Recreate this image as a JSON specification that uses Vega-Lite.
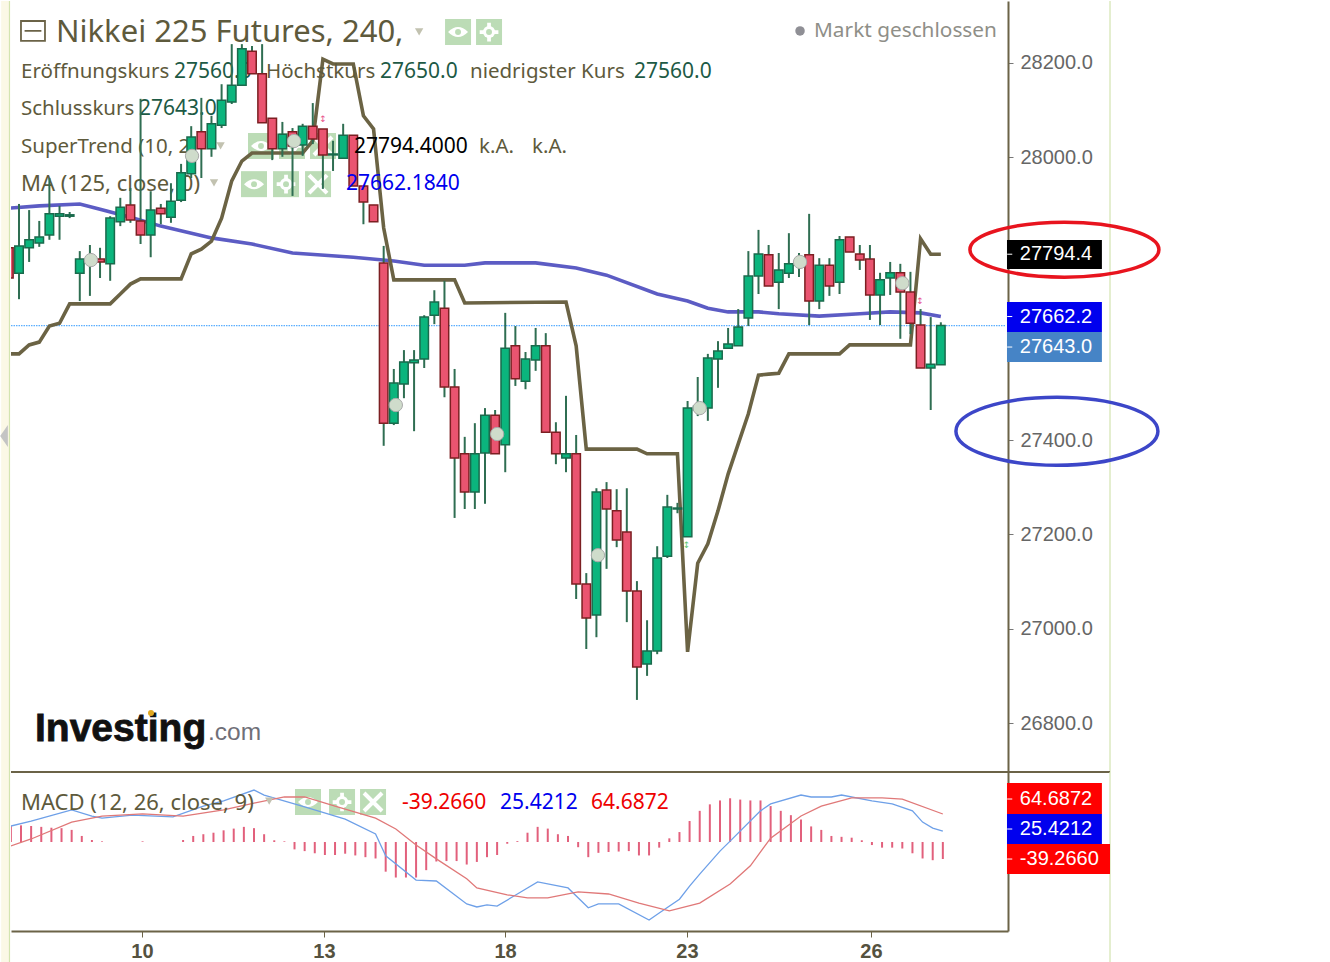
{
"$schema":"https://vega.github.io/schema/vega-lite/v6.json",
"padding":0,
"background":"white",
"bounds":"flush",
"spacing":0,
"resolve":{"scale":{"fill":"independent"}},
"config":{"view":{"stroke":null},"text":{"font":"Noto Sans"}},
"datasets":{
"candles":[
{"k":-1,"o":27808,"h":27822,"l":27727,"c":27744},{"k":0,"o":27754,"h":27901,"l":27699,"c":27812},{"k":1,"o":27808,"h":27888,"l":27778,"c":27825},{"k":2,"o":27818,"h":27865,"l":27810,"c":27831},{"k":3,"o":27835,"h":27956,"l":27825,"c":27880},{"k":4,"o":27875,"h":27897,"l":27825,"c":27880},{"k":5,"o":27875,"h":27884,"l":27871,"c":27878},{"k":6,"o":27754,"h":27801,"l":27695,"c":27784},{"k":7,"o":27778,"h":27814,"l":27706,"c":27784},{"k":8,"o":27784,"h":27808,"l":27744,"c":27778},{"k":9,"o":27774,"h":27875,"l":27738,"c":27871},{"k":10,"o":27863,"h":27914,"l":27854,"c":27894},{"k":11,"o":27899,"h":27935,"l":27861,"c":27867},{"k":12,"o":27865,"h":28124,"l":27816,"c":27835},{"k":13,"o":27835,"h":27928,"l":27788,"c":27888},{"k":14,"o":27892,"h":27901,"l":27858,"c":27880},{"k":15,"o":27873,"h":27945,"l":27861,"c":27907},{"k":16,"o":27909,"h":27986,"l":27905,"c":27967},{"k":17,"o":27965,"h":28066,"l":27956,"c":28043},{"k":18,"o":28054,"h":28126,"l":27956,"c":28018},{"k":19,"o":28018,"h":28088,"l":28001,"c":28071},{"k":20,"o":28068,"h":28155,"l":28062,"c":28121},{"k":21,"o":28117,"h":28240,"l":28113,"c":28153},{"k":22,"o":28153,"h":28240,"l":28153,"c":28230},{"k":23,"o":28225,"h":28236,"l":28177,"c":28177},{"k":24,"o":28177,"h":28240,"l":28073,"c":28073},{"k":25,"o":28083,"h":28083,"l":27994,"c":28018},{"k":26,"o":28018,"h":28075,"l":28001,"c":28049},{"k":27,"o":28054,"h":28062,"l":27918,"c":28024},{"k":28,"o":28026,"h":28071,"l":28003,"c":28066},{"k":29,"o":28066,"h":28115,"l":28028,"c":28039},{"k":30,"o":28060,"h":28060,"l":27933,"c":28005},{"k":31,"o":28005,"h":28035,"l":27971,"c":28007},{"k":32,"o":27998,"h":28071,"l":27998,"c":28047},{"k":33,"o":28047,"h":28047,"l":27939,"c":27939},{"k":34,"o":27939,"h":27939,"l":27858,"c":27905},{"k":35,"o":27899,"h":27899,"l":27863,"c":27863},{"k":36,"o":27776,"h":27812,"l":27388,"c":27436},{"k":37,"o":27436,"h":27551,"l":27432,"c":27521},{"k":38,"o":27519,"h":27591,"l":27489,"c":27566},{"k":39,"o":27564,"h":27591,"l":27419,"c":27570},{"k":40,"o":27572,"h":27665,"l":27553,"c":27661},{"k":41,"o":27665,"h":27718,"l":27646,"c":27693},{"k":42,"o":27680,"h":27738,"l":27491,"c":27513},{"k":43,"o":27513,"h":27551,"l":27235,"c":27362},{"k":44,"o":27371,"h":27407,"l":27254,"c":27290},{"k":45,"o":27290,"h":27436,"l":27254,"c":27371},{"k":46,"o":27373,"h":27468,"l":27265,"c":27453},{"k":47,"o":27453,"h":27464,"l":27371,"c":27371},{"k":48,"o":27390,"h":27670,"l":27332,"c":27595},{"k":49,"o":27600,"h":27642,"l":27515,"c":27530},{"k":50,"o":27525,"h":27587,"l":27508,"c":27572},{"k":51,"o":27570,"h":27638,"l":27547,"c":27600},{"k":52,"o":27600,"h":27627,"l":27417,"c":27417},{"k":53,"o":27417,"h":27438,"l":27349,"c":27371},{"k":54,"o":27362,"h":27494,"l":27332,"c":27371},{"k":55,"o":27371,"h":27411,"l":27063,"c":27095},{"k":56,"o":27095,"h":27118,"l":26957,"c":27023},{"k":57,"o":27029,"h":27298,"l":26982,"c":27290},{"k":58,"o":27294,"h":27311,"l":27127,"c":27254},{"k":59,"o":27250,"h":27296,"l":27173,"c":27188},{"k":60,"o":27205,"h":27298,"l":27014,"c":27080},{"k":61,"o":27080,"h":27101,"l":26849,"c":26919},{"k":62,"o":26925,"h":27018,"l":26900,"c":26953},{"k":63,"o":26953,"h":27175,"l":26946,"c":27150},{"k":64,"o":27154,"h":27284,"l":27150,"c":27258},{"k":65,"o":27254,"h":27267,"l":27245,"c":27256},{"k":66,"o":27195,"h":27483,"l":27195,"c":27468},{"k":67,"o":27464,"h":27534,"l":27451,"c":27472},{"k":68,"o":27468,"h":27583,"l":27441,"c":27574},{"k":69,"o":27572,"h":27610,"l":27511,"c":27589},{"k":70,"o":27595,"h":27638,"l":27595,"c":27604},{"k":71,"o":27600,"h":27678,"l":27600,"c":27640},{"k":72,"o":27659,"h":27801,"l":27642,"c":27748},{"k":73,"o":27748,"h":27846,"l":27710,"c":27795},{"k":74,"o":27793,"h":27814,"l":27727,"c":27727},{"k":75,"o":27735,"h":27797,"l":27678,"c":27761},{"k":76,"o":27754,"h":27839,"l":27744,"c":27774},{"k":77,"o":27774,"h":27797,"l":27746,"c":27782},{"k":78,"o":27793,"h":27880,"l":27644,"c":27695},{"k":79,"o":27695,"h":27786,"l":27678,"c":27771},{"k":80,"o":27771,"h":27786,"l":27706,"c":27727},{"k":81,"o":27735,"h":27833,"l":27710,"c":27825},{"k":82,"o":27831,"h":27831,"l":27799,"c":27799},{"k":83,"o":27795,"h":27814,"l":27761,"c":27782},{"k":84,"o":27784,"h":27814,"l":27655,"c":27708},{"k":85,"o":27708,"h":27755,"l":27644,"c":27740},{"k":86,"o":27744,"h":27778,"l":27708,"c":27755},{"k":87,"o":27755,"h":27774,"l":27615,"c":27714},{"k":88,"o":27714,"h":27757,"l":27625,"c":27648},{"k":89,"o":27644,"h":27678,"l":27553,"c":27553},{"k":90,"o":27553,"h":27661,"l":27464,"c":27561},{"k":91,"o":27560,"h":27650,"l":27560,"c":27643}
],
"supertrend":[
{"k":-1,"p":27583},{"k":0,"p":27583},{"k":1,"p":27602},{"k":2,"p":27608},{"k":3,"p":27642},{"k":4,"p":27648},{"k":5,"p":27689},{"k":9,"p":27689},{"k":10,"p":27710},{"k":11,"p":27731},{"k":12,"p":27742},{"k":16,"p":27742},{"k":17,"p":27795},{"k":18,"p":27805},{"k":19,"p":27822},{"k":20,"p":27871},{"k":21,"p":27950},{"k":22,"p":27992},{"k":23,"p":28009},{"k":28,"p":28009},{"k":29,"p":28035},{"k":30,"p":28208},{"k":31,"p":28198},{"k":33,"p":28198},{"k":34,"p":28088},{"k":35,"p":28060},{"k":36,"p":27850},{"k":37,"p":27740},{"k":43,"p":27740},{"k":44,"p":27691},{"k":54,"p":27693},{"k":55,"p":27600},{"k":56,"p":27381},{"k":61,"p":27381},{"k":62,"p":27371},{"k":65,"p":27371},{"k":66,"p":26951},{"k":67,"p":27139},{"k":68,"p":27180},{"k":69,"p":27250},{"k":70,"p":27328},{"k":71,"p":27392},{"k":72,"p":27456},{"k":73,"p":27538},{"k":74,"p":27540},{"k":75,"p":27542},{"k":76,"p":27583},{"k":81,"p":27583},{"k":82,"p":27602},{"k":88,"p":27602},{"k":89,"p":27827},{"k":90,"p":27794.4},{"k":91,"p":27794.4}
],
"ma":[
{"k":-1,"p":27892},{"k":2,"p":27897},{"k":6,"p":27901},{"k":8,"p":27890},{"k":11,"p":27873},{"k":14,"p":27854},{"k":19,"p":27829},{"k":23,"p":27816},{"k":27,"p":27797},{"k":33,"p":27788},{"k":37,"p":27780},{"k":40,"p":27771},{"k":44,"p":27771},{"k":46,"p":27776},{"k":51,"p":27776},{"k":55,"p":27765},{"k":58,"p":27750},{"k":63,"p":27710},{"k":66,"p":27695},{"k":68,"p":27680},{"k":70,"p":27672},{"k":73,"p":27672},{"k":75,"p":27668},{"k":79,"p":27663},{"k":83,"p":27668},{"k":86,"p":27672},{"k":89,"p":27670},{"k":91,"p":27662.2}
],
"hist":[
{"k":-1,"v":37},{"k":0,"v":38.5},{"k":1,"v":37},{"k":2,"v":35},{"k":3,"v":33},{"k":4,"v":32},{"k":5,"v":28},{"k":6,"v":14},{"k":7,"v":4.6},{"k":8,"v":1.5},{"k":12,"v":1.5},{"k":16,"v":4.6},{"k":17,"v":14},{"k":18,"v":18},{"k":19,"v":21.5},{"k":20,"v":27},{"k":21,"v":31},{"k":22,"v":35},{"k":23,"v":32},{"k":24,"v":18},{"k":25,"v":4},{"k":26,"v":1.5},{"k":27,"v":-17},{"k":28,"v":-21},{"k":29,"v":-26},{"k":30,"v":-30},{"k":31,"v":-30},{"k":32,"v":-27},{"k":33,"v":-31},{"k":34,"v":-35},{"k":35,"v":-38},{"k":36,"v":-68.5},{"k":37,"v":-82},{"k":38,"v":-82},{"k":39,"v":-82},{"k":40,"v":-65},{"k":41,"v":-45},{"k":42,"v":-44},{"k":43,"v":-44},{"k":44,"v":-52},{"k":45,"v":-46},{"k":46,"v":-35},{"k":47,"v":-30},{"k":48,"v":-4},{"k":49,"v":2},{"k":50,"v":21.5},{"k":51,"v":35},{"k":52,"v":31},{"k":53,"v":18},{"k":54,"v":14},{"k":55,"v":-12},{"k":56,"v":-35},{"k":57,"v":-25},{"k":58,"v":-23},{"k":59,"v":-22},{"k":60,"v":-21},{"k":61,"v":-31},{"k":62,"v":-31},{"k":63,"v":-13},{"k":64,"v":8.5},{"k":65,"v":23},{"k":66,"v":48.5},{"k":67,"v":72},{"k":68,"v":87},{"k":69,"v":96},{"k":70,"v":101},{"k":71,"v":98},{"k":72,"v":96},{"k":73,"v":96},{"k":74,"v":83},{"k":75,"v":72},{"k":76,"v":62},{"k":77,"v":52},{"k":78,"v":36},{"k":79,"v":28},{"k":80,"v":14},{"k":81,"v":12},{"k":82,"v":10},{"k":83,"v":4},{"k":84,"v":-7},{"k":85,"v":-13},{"k":86,"v":-13},{"k":87,"v":-15},{"k":88,"v":-26},{"k":89,"v":-38},{"k":90,"v":-42},{"k":91,"v":-39.266}
],
"macd":[
{"k":-1,"v":37},{"k":1,"v":48.5},{"k":5,"v":74},{"k":7,"v":60},{"k":8,"v":55},{"k":11,"v":62},{"k":15,"v":58},{"k":18,"v":83},{"k":20,"v":95},{"k":23,"v":120},{"k":24,"v":108.5},{"k":28,"v":81},{"k":32,"v":53},{"k":35,"v":18.5},{"k":36,"v":-32},{"k":39,"v":-88},{"k":41,"v":-90},{"k":44,"v":-143},{"k":45,"v":-150},{"k":46,"v":-145},{"k":47,"v":-148},{"k":49,"v":-120},{"k":51,"v":-92},{"k":54,"v":-106},{"k":56,"v":-152},{"k":57,"v":-143},{"k":59,"v":-143},{"k":62,"v":-180},{"k":63,"v":-164},{"k":65,"v":-132},{"k":66,"v":-102},{"k":67,"v":-74},{"k":69,"v":-21},{"k":70,"v":2},{"k":73,"v":72},{"k":74,"v":88},{"k":77,"v":108.5},{"k":78,"v":104},{"k":80,"v":104},{"k":81,"v":108.5},{"k":84,"v":95},{"k":86,"v":88},{"k":88,"v":72},{"k":89,"v":46},{"k":90,"v":32},{"k":91,"v":25.4212}
],
"signal":[
{"k":-1,"v":-9},{"k":1,"v":7},{"k":5,"v":46},{"k":8,"v":60},{"k":12,"v":65},{"k":16,"v":60},{"k":20,"v":74},{"k":23,"v":90},{"k":26,"v":104},{"k":28,"v":104},{"k":31,"v":83},{"k":35,"v":55},{"k":37,"v":30},{"k":39,"v":-7},{"k":41,"v":-39},{"k":44,"v":-85},{"k":45,"v":-106},{"k":48,"v":-122},{"k":50,"v":-129},{"k":52,"v":-129},{"k":55,"v":-115},{"k":58,"v":-120},{"k":61,"v":-141},{"k":64,"v":-159},{"k":67,"v":-141},{"k":70,"v":-97},{"k":72,"v":-55},{"k":74,"v":9},{"k":77,"v":60},{"k":79,"v":83},{"k":82,"v":102},{"k":85,"v":102},{"k":87,"v":99},{"k":91,"v":64.6872}
]
},
"vconcat":[
{
"width":997,"height":771,
"encoding":{
"x":{"field":"k","type":"quantitative","scale":{"domain":[-0.79,97.63],"nice":false,"zero":false,"padding":0},"axis":null},
"y":{"field":"p","type":"quantitative","title":null,"scale":{"domain":[26696.1,28331.5],"nice":false,"zero":false},
"axis":{"orient":"right","values":[26800,27000,27200,27400,28000,28200],"format":".1f","grid":false,"domainColor":"#6b6347","domainWidth":2,"tickColor":"#777777","tickSize":5,"labelPadding":7,"labelFont":"Liberation Sans","labelFontSize":20,"labelColor":"#666666"}}
},
"layer":[
{"data":{"values":[{"k":-1.76,"k2":-0.99,"p":28331.5,"p2":26696.1}]},"mark":{"type":"rect","fill":"#fbf8e6"},"encoding":{"x2":{"field":"k2"},"y2":{"field":"p2"}}},
{"data":{"values":[{"k":-0.94,"p":28331.5,"p2":26696.1},{"k":107.7,"p":28331.5,"p2":26696.1}]},"mark":{"type":"rule","color":"#d3e4b0","strokeWidth":1.2},"encoding":{"y2":{"field":"p2"}}},
{"data":{"values":[{"k":-1.48,"p":27409}]},"mark":{"type":"point","shape":"M0.35 -1 L-0.35 0 L0.35 1 Z","size":484,"filled":true,"color":"#c4c4c4","opacity":1}},
{"data":{"values":[{"k":43.34,"p":28265.7,"g":"eye"},{"k":46.4,"p":28265.7,"g":"gear"},{"k":23.89,"p":28024,"g":"eye"},{"k":26.95,"p":28024,"g":"gear"},{"k":30.01,"p":28024,"g":"cross"},{"k":23.2,"p":27943,"g":"eye"},{"k":26.36,"p":27943,"g":"gear"},{"k":29.52,"p":27943,"g":"cross"}]},"layer":[
{"mark":{"type":"point","shape":"square","size":676,"filled":true,"color":"#bcdcb6","opacity":1}},
{"transform":[{"filter":"datum.g==='eye'"}],"mark":{"type":"point","shape":"M -1 0 Q 0 -1 1 0 Q 0 1 -1 0 Z","size":400,"filled":true,"color":"#ffffff","opacity":1}},
{"transform":[{"filter":"datum.g==='gear'"}],"mark":{"type":"point","shape":"circle","size":150,"filled":true,"color":"#ffffff","opacity":1}},
{"transform":[{"filter":"datum.g==='gear'"}],"mark":{"type":"point","shape":"M-0.2 -1 H0.2 V-0.2 H1 V0.2 H0.2 V1 H-0.2 V0.2 H-1 V-0.2 H-0.2 Z","size":350,"filled":true,"color":"#ffffff","opacity":1}},
{"transform":[{"filter":"datum.g!=='cross'"}],"mark":{"type":"point","shape":"circle","size":35,"filled":true,"color":"#bcdcb6","opacity":1}},
{"transform":[{"filter":"datum.g==='cross'"}],"mark":{"type":"point","shape":"M-1 -1L1 1M-1 1L1 -1","size":324,"filled":false,"color":"#ffffff","strokeWidth":4,"opacity":1}}
]},
{"data":{"values":[{"k":-0.79,"k2":97.4,"p":27643}]},"mark":{"type":"rule","color":"#5aaeff","strokeWidth":1.3,"strokeDash":[1.5,1],"opacity":1},"encoding":{"x2":{"field":"k2"}}},
{"data":{"name":"ma"},"mark":{"type":"line","color":"#5c5cc4","strokeWidth":3.6,"clip":true}},
{"data":{"name":"supertrend"},"mark":{"type":"line","color":"#6b6344","strokeWidth":3.6,"clip":true}},
{"data":{"values":[{"k":3.65,"p":28263.6,"t":"Nikkei 225 Futures, 240,"}]},"mark":{"type":"text","align":"left","baseline":"middle","fontSize":31,"color":"#5e5a3c"},"encoding":{"text":{"field":"t"}}},
{"data":{"values":[{"k":78.48,"p":28268,"t":"Markt geschlossen"}]},"mark":{"type":"text","align":"left","baseline":"middle","fontSize":20.8,"color":"#8f8f88"},"encoding":{"text":{"field":"t"}}},
{"data":{"values":[{"k":77.1,"p":28268}]},"mark":{"type":"point","shape":"circle","size":90,"filled":true,"color":"#8f8f95","opacity":1}},
{"data":{"values":[{"k":0.2,"p":28181,"t":"Eröffnungskurs"},{"k":24.38,"p":28181,"t":"Höchstkurs"},{"k":44.52,"p":28181,"t":"niedrigster Kurs"},{"k":0.2,"p":28102.4,"t":"Schlusskurs"},{"k":0.2,"p":28021.8,"t":"SuperTrend (10, 2)"},{"k":45.41,"p":28021.8,"t":"k.A."},{"k":50.64,"p":28021.8,"t":"k.A."}]},"mark":{"type":"text","align":"left","baseline":"middle","fontSize":20.5,"color":"#5e5a3c"},"encoding":{"text":{"field":"t"}}},
{"data":{"values":[{"k":0.2,"p":27943.3,"t":"MA (125, close, 0)"}]},"mark":{"type":"text","align":"left","baseline":"middle","fontSize":22,"color":"#5e5a3c"},"encoding":{"text":{"field":"t"}}},
{"data":{"values":[{"k":15.3,"p":28181,"t":"27560.0"},{"k":35.64,"p":28181,"t":"27650.0"},{"k":60.71,"p":28181,"t":"27560.0"},{"k":11.85,"p":28102.4,"t":"27643.0"}]},"mark":{"type":"text","align":"left","baseline":"middle","fontSize":21,"color":"#1d5a45"},"encoding":{"text":{"field":"t"}}},
{"data":{"values":[{"k":39.5,"p":28266},{"k":19.9,"p":28024},{"k":19.25,"p":27945.5}]},"mark":{"type":"point","shape":"triangle-down","size":70,"filled":true,"color":"#c2c2b0","opacity":1}},
{"data":{"values":[{"k":1.38,"p":28268}]},"mark":{"type":"point","shape":"M-1 -0.83 H1 V0.83 H-1 Z M-0.7 0 H0.7","size":576,"filled":false,"color":"#6b6347","strokeWidth":1.8,"opacity":1}},
{"data":{"values":[{"k":1.58,"p":26787.3,"t":"Investing"}]},"mark":{"type":"text","align":"left","baseline":"middle","font":"Liberation Sans","fontWeight":"bold","fontSize":39,"color":"#111111","stroke":"#111111","strokeWidth":0.8},"encoding":{"text":{"field":"t"}}},
{"data":{"values":[{"k":18.66,"p":26778.8,"t":".com"}]},"mark":{"type":"text","align":"left","baseline":"middle","font":"Liberation Sans","fontSize":24.5,"color":"#6f6f78"},"encoding":{"text":{"field":"t"}}},
{"data":{"values":[{"k":13.03,"p":26821}]},"mark":{"type":"point","shape":"circle","size":36,"filled":true,"color":"#e0a820","opacity":1}},
{"data":{"name":"candles"},"mark":{"type":"rule","color":"#2f6e52","strokeWidth":2,"clip":true},"encoding":{"y":{"field":"l","type":"quantitative","title":null,"scale":{"domain":[26696.1,28331.5],"nice":false,"zero":false},"axis":{"orient":"right","values":[26800,27000,27200,27400,28000,28200],"format":".1f","grid":false,"domainColor":"#6b6347","domainWidth":2,"tickColor":"#777777","tickSize":5,"labelPadding":7,"labelFont":"Liberation Sans","labelFontSize":20,"labelColor":"#666666"}},"y2":{"field":"h"}}},
{"data":{"name":"candles"},"mark":{"type":"bar","size":8.5,"strokeWidth":1.5,"clip":true,"orient":"vertical"},"encoding":{"y":{"field":"o","type":"quantitative","title":null,"scale":{"domain":[26696.1,28331.5],"nice":false,"zero":false},"axis":{"orient":"right","values":[26800,27000,27200,27400,28000,28200],"format":".1f","grid":false,"domainColor":"#6b6347","domainWidth":2,"tickColor":"#777777","tickSize":5,"labelPadding":7,"labelFont":"Liberation Sans","labelFontSize":20,"labelColor":"#666666"}},"y2":{"field":"c"},
"fill":{"condition":{"test":"datum.c>=datum.o","value":"#0bb57d"},"value":"#ea5470"},
"stroke":{"condition":{"test":"datum.c>=datum.o","value":"#1a6a4c"},"value":"#7c1f22"}}},
{"data":{"values":[{"k":7.1,"p":27782},{"k":17.08,"p":28003},{"k":27.15,"p":28034.5},{"k":37.2,"p":27474.5},{"k":47.2,"p":27413},{"k":57.15,"p":27156},{"k":67.2,"p":27468},{"k":77.1,"p":27778},{"k":87.2,"p":27733}]},"mark":{"type":"point","shape":"circle","size":177,"filled":true,"fill":"#cfdccb","stroke":"#a9a9a9","strokeWidth":1,"opacity":1}},
{"data":{"values":[{"k":30,"p":28081,"t":"↕"},{"k":88.95,"p":27695,"t":"↕"}]},"mark":{"type":"text","font":"DejaVu Sans","fontSize":9,"color":"#e8508a","baseline":"middle"},"encoding":{"text":{"field":"t"}}},
{"data":{"values":[{"k":65.9,"p":27177,"t":"↕"}]},"mark":{"type":"text","font":"DejaVu Sans","fontSize":9,"color":"#60c870","baseline":"middle"},"encoding":{"text":{"field":"t"}}},
{"data":{"values":[{"k":33.07,"p":28021.8,"t":"27794.4000"}]},"mark":{"type":"text","align":"left","baseline":"middle","fontSize":21,"color":"#000000"},"encoding":{"text":{"field":"t"}}},
{"data":{"values":[{"k":32.28,"p":27943.3,"t":"27662.1840"}]},"mark":{"type":"text","align":"left","baseline":"middle","fontSize":21,"color":"#0000ee"},"encoding":{"text":{"field":"t"}}},
{"data":{"values":[{"k":97.53,"k2":106.9,"p":27763,"p2":27824.5,"tag":"black"},{"k":97.53,"k2":106.9,"p":27629.4,"p2":27693,"tag":"blue"},{"k":97.53,"k2":106.9,"p":27565.8,"p2":27629.4,"tag":"steel"}]},"mark":{"type":"rect"},"encoding":{"x2":{"field":"k2"},"y2":{"field":"p2"},"fill":{"field":"tag","type":"nominal","legend":null,"scale":{"domain":["black","blue","steel"],"range":["#000000","#0000ee","#4684c6"]}}}},
{"data":{"values":[{"k":97.55,"k2":98.05,"p":27794.4},{"k":97.55,"k2":98.05,"p":27662.2},{"k":97.55,"k2":98.05,"p":27597.5}]},"mark":{"type":"rule","color":"#ffffff","strokeWidth":1},"encoding":{"x2":{"field":"k2"}}},
{"data":{"values":[{"k":98.8,"p":27794.4,"t":"27794.4"},{"k":98.8,"p":27662.2,"t":"27662.2"},{"k":98.8,"p":27597.5,"t":"27643.0"}]},"mark":{"type":"text","align":"left","baseline":"middle","font":"Liberation Sans","fontSize":20,"color":"#ffffff"},"encoding":{"text":{"field":"t"}}},
{"data":{"values":[{"k":103.2,"p":27804}]},"mark":{"type":"point","shape":"M -1 0 A 1 0.291 0 1 1 1 0 A 1 0.291 0 1 1 -1 0 Z","size":35721,"filled":false,"color":"#e8141e","strokeWidth":3.5,"opacity":1}},
{"data":{"values":[{"k":102.46,"p":27419}]},"mark":{"type":"point","shape":"M -1 0 A 1 0.337 0 1 1 1 0 A 1 0.337 0 1 1 -1 0 Z","size":40804,"filled":false,"color":"#3c46c8","strokeWidth":3.5,"opacity":1}},
{"data":{"values":[{"k":-0.79,"k2":107.7,"p":26696.1}]},"mark":{"type":"rule","color":"#6b6347","strokeWidth":2},"encoding":{"x2":{"field":"k2"}}}
]
},
{
"width":997,"height":159,
"encoding":{
"x":{"field":"k","type":"quantitative","title":null,"scale":{"domain":[-0.79,97.63],"nice":false,"zero":false},
"axis":{"orient":"bottom","values":[12.14,30.1,47.98,65.94,84.1],"labelExpr":"datum.value<20?'10':datum.value<40?'13':datum.value<60?'18':datum.value<75?'23':'26'","grid":false,"domainColor":"#6b6347","domainWidth":2,"tickColor":"#6b6347","tickSize":6,"labelPadding":4,"labelFont":"Liberation Sans","labelFontWeight":"bold","labelFontSize":20,"labelColor":"#55523f","labelFlush":false,"labelOverlap":false}},
"y":{"field":"v","type":"quantitative","title":null,"scale":{"domain":[-205.5,161.7],"nice":false,"zero":false},
"axis":{"orient":"right","values":[],"grid":false,"domainColor":"#6b6347","domainWidth":2,"ticks":false,"labels":false}}
},
"layer":[
{"data":{"values":[{"k":-1.76,"k2":-0.99,"v":161.7,"v2":-279.4}]},"mark":{"type":"rect","fill":"#fbf8e6"},"encoding":{"x2":{"field":"k2"},"y2":{"field":"v2"}}},
{"data":{"values":[{"k":-0.94,"v":161.7,"v2":-279.4},{"k":107.7,"v":161.7,"v2":-279.4}]},"mark":{"type":"rule","color":"#d3e4b0","strokeWidth":1.2},"encoding":{"y2":{"field":"v2"}}},
{"data":{"values":[{"k":28.53,"v":92.4,"g":"eye"},{"k":31.89,"v":92.4,"g":"gear"},{"k":34.95,"v":92.4,"g":"cross"}]},"layer":[
{"mark":{"type":"point","shape":"square","size":676,"filled":true,"color":"#bcdcb6","opacity":1}},
{"transform":[{"filter":"datum.g==='eye'"}],"mark":{"type":"point","shape":"M -1 0 Q 0 -1 1 0 Q 0 1 -1 0 Z","size":400,"filled":true,"color":"#ffffff","opacity":1}},
{"transform":[{"filter":"datum.g==='gear'"}],"mark":{"type":"point","shape":"circle","size":150,"filled":true,"color":"#ffffff","opacity":1}},
{"transform":[{"filter":"datum.g==='gear'"}],"mark":{"type":"point","shape":"M-0.2 -1 H0.2 V-0.2 H1 V0.2 H0.2 V1 H-0.2 V0.2 H-1 V-0.2 H-0.2 Z","size":350,"filled":true,"color":"#ffffff","opacity":1}},
{"transform":[{"filter":"datum.g!=='cross'"}],"mark":{"type":"point","shape":"circle","size":35,"filled":true,"color":"#bcdcb6","opacity":1}},
{"transform":[{"filter":"datum.g==='cross'"}],"mark":{"type":"point","shape":"M-1 -1L1 1M-1 1L1 -1","size":324,"filled":false,"color":"#ffffff","strokeWidth":4,"opacity":1}}
]},
{"data":{"name":"hist"},"mark":{"type":"rule","color":"#e2607c","strokeWidth":2,"xOffset":2,"clip":true},"encoding":{"y2":{"datum":0}}},
{"data":{"name":"macd"},"mark":{"type":"line","color":"#6ea0e8","strokeWidth":1.3,"xOffset":2,"clip":true}},
{"data":{"name":"signal"},"mark":{"type":"line","color":"#e07878","strokeWidth":1.3,"xOffset":2,"clip":true}},
{"data":{"values":[{"k":0.2,"v":90,"t":"MACD (12, 26, close, 9)"}]},"mark":{"type":"text","align":"left","baseline":"middle","fontSize":22,"color":"#5e5a3c"},"encoding":{"text":{"field":"t"}}},
{"data":{"values":[{"k":37.8,"v":90,"t":"-39.2660"},{"k":56.47,"v":90,"t":"64.6872"}]},"mark":{"type":"text","align":"left","baseline":"middle","fontSize":21,"color":"#ee0000"},"encoding":{"text":{"field":"t"}}},
{"data":{"values":[{"k":47.48,"v":90,"t":"25.4212"}]},"mark":{"type":"text","align":"left","baseline":"middle","fontSize":21,"color":"#0000ee"},"encoding":{"text":{"field":"t"}}},
{"data":{"values":[{"k":24.7,"v":94.7}]},"mark":{"type":"point","shape":"triangle-down","size":70,"filled":true,"color":"#c2c2b0","opacity":1}},
{"data":{"values":[{"k":97.53,"k2":106.9,"v":136.2,"v2":64.7,"tag":"a"},{"k":97.53,"k2":106.9,"v":64.7,"v2":-4.6,"tag":"b"},{"k":97.53,"k2":107.7,"v":-4.6,"v2":-73.9,"tag":"a"}]},"mark":{"type":"rect"},"encoding":{"x2":{"field":"k2"},"y2":{"field":"v2"},"fill":{"field":"tag","type":"nominal","legend":null,"scale":{"domain":["a","b"],"range":["#ff0000","#0000ee"]}}}},
{"data":{"values":[{"k":97.55,"k2":98.05,"v":99.3},{"k":97.55,"k2":98.05,"v":30},{"k":97.55,"k2":98.05,"v":-39.3}]},"mark":{"type":"rule","color":"#ffffff","strokeWidth":1},"encoding":{"x2":{"field":"k2"}}},
{"data":{"values":[{"k":98.8,"v":99.3,"t":"64.6872"},{"k":98.8,"v":30,"t":"25.4212"},{"k":98.8,"v":-39.3,"t":"-39.2660"}]},"mark":{"type":"text","align":"left","baseline":"middle","font":"Liberation Sans","fontSize":20,"color":"#ffffff"},"encoding":{"text":{"field":"t"}}}
]
}
]
}
